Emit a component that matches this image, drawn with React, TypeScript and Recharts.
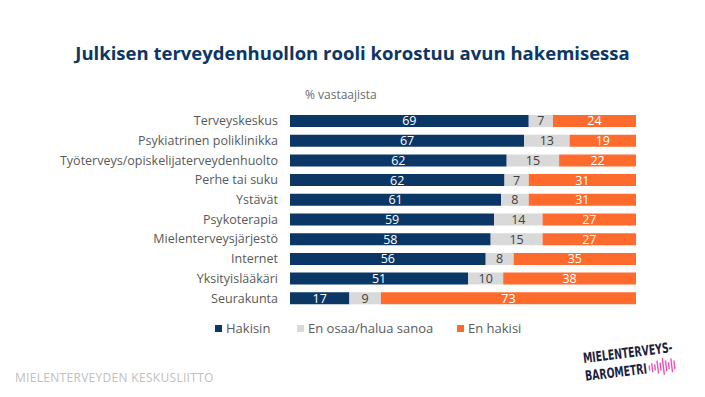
import React from "react";
import { BarChart, Bar, XAxis, YAxis, LabelList } from "recharts";

const categories = [
  "Terveyskeskus",
  "Psykiatrinen poliklinikka",
  "Työterveys/opiskelijaterveydenhuolto",
  "Perhe tai suku",
  "Ystävät",
  "Psykoterapia",
  "Mielenterveysjärjestö",
  "Internet",
  "Yksityislääkäri",
  "Seurakunta",
];
const hakisin = [69, 67, 62, 62, 61, 59, 58, 56, 51, 17];
const enOsaa = [7, 13, 15, 7, 8, 14, 15, 8, 10, 9];
const enHakisi = [24, 19, 22, 31, 31, 27, 27, 35, 38, 73];

const NAVY = "#0b3766";
const GREY = "#d9d9d9";
const ORANGE = "#ff6b2c";
const FONT = "'Open Sans', sans-serif";

const data = categories.map((name, i) => ({
  name,
  hakisin: hakisin[i],
  enOsaa: enOsaa[i],
  enHakisi: enHakisi[i],
}));

const legendItems = [
  { label: "Hakisin", color: NAVY, x: 215 },
  { label: "En osaa/halua sanoa", color: GREY, x: 297 },
  { label: "En hakisi", color: ORANGE, x: 457 },
];

function LegendRow() {
  return (
    <div style={{ position: "absolute", top: 319, left: 0, height: 20, width: 705 }}>
      {legendItems.map((it) => (
        <div
          key={it.label}
          style={{
            position: "absolute",
            left: it.x,
            top: 0,
            display: "flex",
            alignItems: "center",
            fontFamily: FONT,
            fontSize: 13,
            color: "#595959",
          }}
        >
          <span
            style={{
              display: "inline-block",
              width: 7,
              height: 7,
              background: it.color,
              marginRight: 4,
            }}
          />
          {it.label}
        </div>
      ))}
    </div>
  );
}

function Logo() {
  const bars = [5, 9, 6, 13, 8, 17, 11, 7, 14, 9];
  return (
    <svg
      width={125}
      height={64}
      style={{ position: "absolute", left: 575, top: 330 }}
    >
      <g transform="translate(3 3) rotate(-7 55 30)" fill="#1d1f3f">
        <g transform="translate(6 0) scale(0.74 1)" fontFamily="'DejaVu Sans Condensed', sans-serif" fontWeight="bold" fontSize={14}>
          <text x={0} y={24}>MIELENTERVEYS-</text>
          <text x={0} y={42}>BAROMETRI</text>
        </g>
        {bars.map((h, i) => (
          <rect key={i} x={70 + i * 2.8} y={37 - h / 2} width={1.4} height={h} fill="#f04fb6" />
        ))}
      </g>
    </svg>
  );
}

export default function App() {
  return (
    <div style={{ position: "absolute", left: 0, top: 0, width: 705, height: 397, background: "#fff" }}>
      <style>{"body{margin:0}"}</style>
      <div
        style={{
          position: "absolute",
          top: 40,
          left: 0,
          width: 705,
          textAlign: "center",
          fontFamily: FONT,
          fontWeight: 700,
          fontSize: 18.5,
          color: "#0b3766",
        }}
      >
        Julkisen terveydenhuollon rooli korostuu avun hakemisessa
      </div>
      <div
        style={{
          position: "absolute",
          top: 86,
          left: 305,
          fontFamily: FONT,
          fontSize: 12,
          color: "#6b6b6b",
        }}
      >
        % vastaajista
      </div>
      <BarChart
        width={705}
        height={397}
        data={data}
        layout="vertical"
        stackOffset="expand"
        barSize={12}
        margin={{ top: 111, right: 69, bottom: 89, left: 0 }}
      >
        <XAxis type="number" domain={[0, 1]} hide />
        <YAxis
          type="category"
          dataKey="name"
          width={290}
          axisLine={false}
          tickLine={false}
          tickSize={0}
          tickMargin={12}
          interval={0}
          tick={{ fontFamily: FONT, fontSize: 12.5, fill: "#595959" }}
        />
        <Bar dataKey="hakisin" stackId="a" fill={NAVY} isAnimationActive={false}>
          <LabelList dataKey="hakisin" position="center" fill="#ffffff" fontFamily={FONT} fontSize={12.5} />
        </Bar>
        <Bar dataKey="enOsaa" stackId="a" fill={GREY} isAnimationActive={false}>
          <LabelList dataKey="enOsaa" position="center" fill="#404040" fontFamily={FONT} fontSize={12.5} />
        </Bar>
        <Bar dataKey="enHakisi" stackId="a" fill={ORANGE} isAnimationActive={false}>
          <LabelList dataKey="enHakisi" position="center" fill="#ffffff" fontFamily={FONT} fontSize={12.5} />
        </Bar>
      </BarChart>
      <LegendRow />
      <div
        style={{
          position: "absolute",
          top: 369,
          left: 15,
          fontFamily: FONT,
          fontSize: 12,
          color: "#c0c0c0",
          letterSpacing: 0.3,
        }}
      >
        MIELENTERVEYDEN KESKUSLIITTO
      </div>
      <Logo />
    </div>
  );
}
